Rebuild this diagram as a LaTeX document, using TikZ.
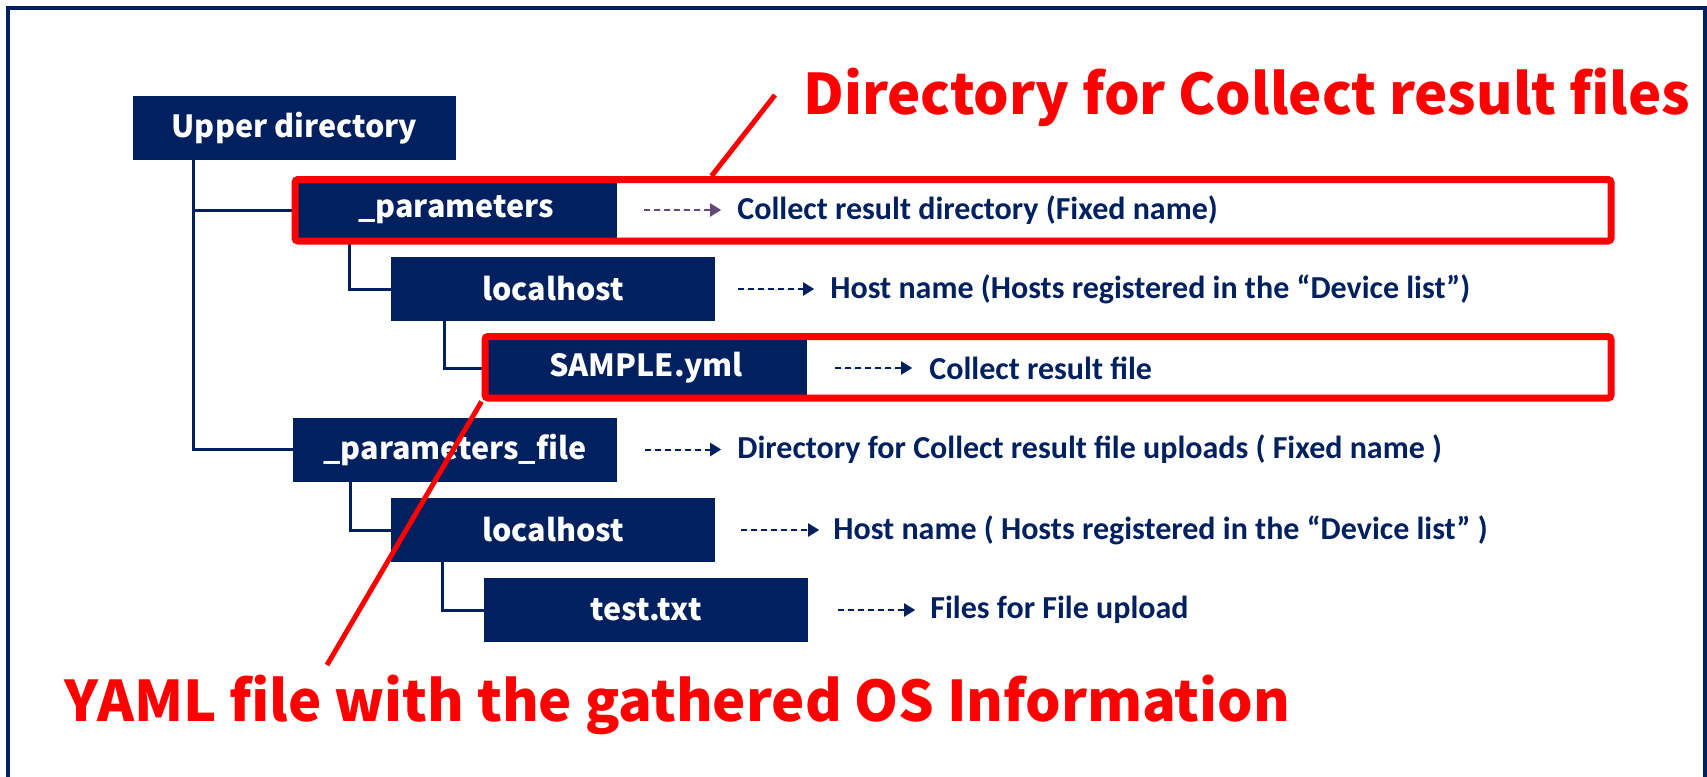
\documentclass[tikz,border=0pt]{standalone}
\usepackage{fontspec}
\setmainfont{Carlito}
\newfontfamily\labelfont{Noto Sans CJK JP}
\usetikzlibrary{arrows.meta}
\definecolor{navy}{HTML}{002060}
\definecolor{notepurple}{RGB}{96,74,123}
\definecolor{hired}{HTML}{FF0000}
\tikzset{
  dirbox/.style={fill=navy, text=white, minimum width=324pt, minimum height=64pt,
    inner sep=0pt, font=\labelfont\bfseries\fontsize{30.5}{36}\selectfont},
  tree/.style={draw=navy, line width=3pt},
  note/.style={text=navy, inner sep=0pt, anchor=west,
    font=\bfseries\fontsize{32}{38}\selectfont},
  pointer/.style={draw=navy, line width=2pt, dash pattern=on 6pt off 4pt,
    -{Triangle[length=11pt,width=13pt]}},
  hlframe/.style={draw=hired, line width=7pt, rounded corners=3pt, inner sep=0pt},
  callout/.style={draw=hired, line width=5pt},
  bigred/.style={text=hired, inner sep=0pt, anchor=base west,
    font=\labelfont\bfseries\fontsize{56}{64}\selectfont}
}
\begin{document}
\begin{tikzpicture}[x=1pt, y=-1pt]
\useasboundingbox (0,0) rectangle (1707,776);
% outer frame, open at the bottom
\draw[navy, line width=4pt] (7.5,800) -- (7.5,8.5) -- (1705,8.5) -- (1705,800);

% directory boxes
\node[dirbox, minimum width=323pt] (up)  at (294.5,128) {Upper directory};
\node[dirbox, minimum width=322pt] (par) at (456,210)   {\_parameters};
\node[dirbox] (lh1) at (553,289)   {localhost};
\node[dirbox, minimum width=322pt] (smp) at (646,368)   {SAMPLE.yml};
\node[dirbox] (pf)  at (455,449.5) {\_parameters\_file};
\node[dirbox] (lh2) at (553,530)   {localhost};
\node[dirbox] (tt)  at (646,610)   {test.txt};

% tree connectors
\draw[tree] ([xshift=61pt]up.south west) |- (par.west);
\draw[tree] ([xshift=61pt]up.south west) |- (pf.west);
\draw[tree] ([xshift=55pt]par.south west) |- (lh1.west);
\draw[tree] ([xshift=54pt]lh1.south west) |- (smp.west);
\draw[tree] ([xshift=58pt]pf.south west) |- (lh2.west);
\draw[tree] ([xshift=52pt]lh2.south west) |- (tt.west);

% descriptions
\node[note] (n1) at ([xshift=120pt]par.east) {Collect result directory (Fixed name)};
\node[note] (n2) at ([xshift=115pt]lh1.east) {Host name (Hosts registered in the “Device list”)};
\node[note] (n3) at ([xshift=122pt]smp.east) {Collect result file};
\node[note] (n4) at ([xshift=120pt]pf.east)  {Directory for Collect result file uploads ( Fixed name )};
\node[note] (n5) at ([xshift=118pt]lh2.east) {Host name ( Hosts registered in the “Device list” )};
\node[note] (n6) at ([xshift=122pt]tt.east)  {Files for File upload};

\draw[pointer, draw=notepurple, fill=notepurple] ([xshift=27pt]par.east) -- ([xshift=-16pt]n1.west);
\draw[pointer, fill=navy] ([xshift=23pt]lh1.east) -- ([xshift=-16pt]n2.west);
\draw[pointer, fill=navy] ([xshift=28pt]smp.east) -- ([xshift=-17pt]n3.west);
\draw[pointer, fill=navy] ([xshift=28pt]pf.east)  -- ([xshift=-16pt]n4.west);
\draw[pointer, fill=navy] ([xshift=26pt]lh2.east) -- ([xshift=-14pt]n5.west);
\draw[pointer, fill=navy] ([xshift=30pt]tt.east)  -- ([xshift=-15pt]n6.west);

% red highlight frames
\node[hlframe, minimum width=1316pt, minimum height=61.5pt] (hl1) at (953,210.25) {};
\node[hlframe, minimum width=1126pt, minimum height=61.5pt] (hl2) at (1048,367.25) {};

% red callouts
\node[bigred] (dirnote) at (803,114) {Directory for Collect result files};
\node[bigred] (yamlnote) at (64,721) {YAML file with the gathered OS Information};
\coordinate (dirtip) at (775,95);
\coordinate (yamltip) at (327,665);
\draw[callout] (dirtip) -- ([xshift=420pt]hl1.north west);
\draw[callout] (hl2.south west) -- (yamltip);
\end{tikzpicture}
\end{document}
